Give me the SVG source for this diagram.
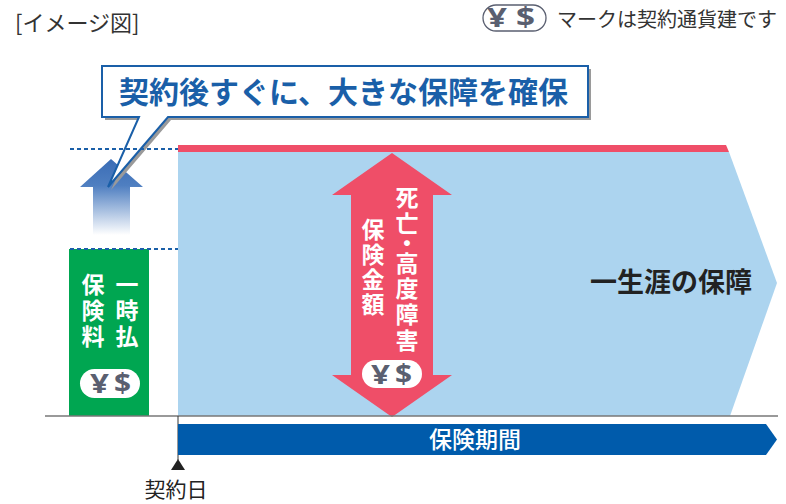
<svg xmlns="http://www.w3.org/2000/svg" width="786" height="504" viewBox="0 0 786 504">
<defs>
<style>
.jp{font-family:"Noto Sans CJK JP","Noto Sans",sans-serif}
.wv{font-family:"Noto Sans CJK JP","Noto Sans",sans-serif;font-size:23px;font-weight:bold;fill:#fff;text-anchor:middle}
.ys{font-family:"Noto Sans","Noto Sans CJK JP",sans-serif;font-weight:bold;fill:#5a5f70}
.dot{stroke:#1a5fa8;stroke-width:2;stroke-dasharray:4 3;fill:none}
</style>
<linearGradient id="upg" x1="0" y1="0" x2="0" y2="1">
<stop offset="0" stop-color="#3a6cb5"/>
<stop offset="0.35" stop-color="#4f7fc1"/>
<stop offset="1" stop-color="#ffffff"/>
</linearGradient>
</defs>
<rect width="786" height="504" fill="#fff"/>

<g id="header">
<text class="jp" x="15" y="31" font-size="22" fill="#333">[イメージ図]</text>
<rect x="483" y="5" width="63" height="26" rx="13" fill="#fff" stroke="#5a5f70" stroke-width="1.3"/>
<text class="ys" x="487" y="27" font-size="26" textLength="20" lengthAdjust="spacingAndGlyphs">¥</text>
<text class="ys" x="516" y="27" font-size="26" textLength="19" lengthAdjust="spacingAndGlyphs">$</text>
<text class="jp" x="557" y="27" font-size="20" fill="#333">マークは契約通貨建です</text>
</g>

<g id="coverage">
<polygon points="178,152 729,152 777,283 730,416 178,416" fill="#acd4ef"/>
<polygon points="178,145 726,145 729,152 178,152" fill="#ef4e68"/>
<text class="jp" x="590" y="292" font-size="27" font-weight="bold" fill="#222">一生涯の保障</text>
</g>

<g id="premium">
<rect x="69" y="249" width="80" height="167" fill="#00a651"/>
<text class="wv" x="127" y="293">一</text>
<text class="wv" x="127" y="319">時</text>
<text class="wv" x="127" y="345">払</text>
<text class="wv" x="93" y="293">保</text>
<text class="wv" x="93" y="319">険</text>
<text class="wv" x="93" y="345">料</text>
<rect x="80" y="369" width="60" height="29" rx="14.5" fill="#fff"/>
<text class="ys" x="90" y="393" font-size="26" textLength="19" lengthAdjust="spacingAndGlyphs">¥</text>
<text class="ys" x="114" y="393" font-size="26" textLength="17" lengthAdjust="spacingAndGlyphs">$</text>
</g>

<g id="up-arrow">
<polygon points="111,159 143,187 130,187 130,235 93,235 93,187 80,187" fill="url(#upg)"/>
</g>

<g id="benefit">
<polygon points="392,153 452,195 433,195 433,375 452,375 392,417 332,375 351,375 351,195 332,195" fill="#ef4e68"/>
<text class="wv" x="407" y="206">死</text>
<text class="wv" x="407" y="232">亡</text>
<text class="wv" x="407" y="252">・</text>
<text class="wv" x="407" y="272">高</text>
<text class="wv" x="407" y="297">度</text>
<text class="wv" x="407" y="323">障</text>
<text class="wv" x="407" y="349">害</text>
<text class="wv" x="373" y="238">保</text>
<text class="wv" x="373" y="263">険</text>
<text class="wv" x="373" y="288">金</text>
<text class="wv" x="373" y="313">額</text>
<rect x="362" y="360" width="60" height="28" rx="14" fill="#fff"/>
<text class="ys" x="371" y="384" font-size="26" textLength="19" lengthAdjust="spacingAndGlyphs">¥</text>
<text class="ys" x="395" y="384" font-size="26" textLength="17" lengthAdjust="spacingAndGlyphs">$</text>
</g>

<g id="callout">
<path d="M105,69 H591 V120 H171 L111,190 L142,120 H105 Z" fill="#9a9a9a"/>
<path d="M102,66 H588 V117 H168 L108,187 L139,117 H102 Z" fill="#fff" stroke="#1a5fa8" stroke-width="2" stroke-linejoin="miter"/>
<text class="jp" x="119" y="103" font-size="30" font-weight="bold" fill="#1a5fa8">契約後すぐに、大きな保障を確保</text>
</g>

<g id="connectors">
<line class="dot" x1="70" y1="149" x2="178" y2="149"/>
<line class="dot" x1="70" y1="249" x2="178" y2="249"/>
<line x1="45" y1="416" x2="778" y2="416" stroke="#777" stroke-width="1.5"/>
<line x1="178" y1="416" x2="178" y2="460" stroke="#333" stroke-width="1"/>
</g>

<g id="period">
<polygon points="178,424 766,424 777,439.5 766,455 178,455" fill="#005bab"/>
<text class="jp" x="475" y="448" font-size="23" font-weight="500" fill="#fff" text-anchor="middle">保険期間</text>
</g>

<g id="start">
<polygon points="178,459 185,470 171,470" fill="#222"/>
<text class="jp" x="176" y="497" font-size="21" fill="#222" text-anchor="middle">契約日</text>
</g>
</svg>
